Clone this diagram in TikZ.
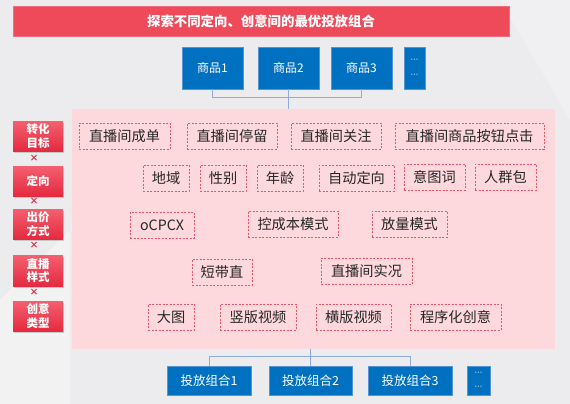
\documentclass[tikz,border=0pt]{standalone}
\usepackage{fontspec}
\setmainfont{Noto Sans CJK SC}
\newfontfamily\dotfont{DejaVu Sans}
\usetikzlibrary{shadows}
\definecolor{bgc}{HTML}{ECECEE}
\definecolor{titlered}{HTML}{EE4A5A}
\definecolor{bluebox}{HTML}{0070C0}
\definecolor{pinkbg}{HTML}{FDD8DC}
\definecolor{dashred}{HTML}{E8566C}
\definecolor{linec}{HTML}{8FAADC}
\definecolor{txt}{HTML}{262626}
\definecolor{redtop}{HTML}{F4606F}
\definecolor{redbot}{HTML}{E42A40}
\tikzset{
  dbox/.style={draw=dashred, dash pattern=on 2pt off 1.5pt, line width=0.8pt, fill=pinkbg,
    minimum height=26pt, inner sep=0pt, text=txt, font=\fontsize{14.2}{16}\selectfont},
  bluenode/.style={fill=bluebox, draw=linec!60!bluebox, line width=0.4pt, text=white, inner sep=0pt},
  redtag/.style={top color=redtop, bottom color=redbot, draw=none, text=white,
    minimum width=50pt, inner sep=0pt, align=center,
    font=\fontsize{11.5}{13.5}\selectfont\bfseries,
    drop shadow={shadow xshift=1pt, shadow yshift=-1.5pt, opacity=0.35}},
  timesmark/.style={text=redbot, font=\fontsize{9}{9}\selectfont\bfseries, inner sep=0pt},
  conn/.style={draw=linec, line width=0.9pt},
}
\begin{document}
\begin{tikzpicture}[x=1pt, y=-1pt]
\useasboundingbox (0,0) rectangle (570,404);
\fill[bgc] (0,0) rectangle (570,404);
\fill[white, opacity=0.35] (0,300) -- (70,230) -- (70,404) -- (0,404) -- cycle;
\fill[white, opacity=0.25] (500,0) -- (570,0) -- (570,120) -- cycle;

% title
\node[fill=titlered, draw=titlered!80!white, minimum width=496pt, minimum height=30pt, inner sep=0pt,
  text=white, font=\fontsize{13.4}{15}\selectfont\bfseries] (title) at (261,21) {探索不同定向、创意间的最优投放组合};

% products
\node[bluenode, minimum width=61pt, minimum height=42pt, font=\fontsize{12}{14}\selectfont] (p1) at (212.5,68) {商品1};
\node[bluenode, minimum width=61pt, minimum height=42pt, font=\fontsize{12}{14}\selectfont] (p2) at (288.5,68) {商品2};
\node[bluenode, minimum width=61pt, minimum height=42pt, font=\fontsize{12}{14}\selectfont] (p3) at (361.5,68) {商品3};
\node[bluenode, minimum width=21pt, minimum height=42pt, align=center, font=\dotfont\fontsize{8}{15}\selectfont] (pd) at (414.5,68) {···\\···};

% panel
\node[fill=pinkbg, draw=none, minimum width=483pt, minimum height=240pt, inner sep=0pt] (panel) at (313.5,229) {};

% connectors top
\draw[conn] (p1.south) -- ++(0,8) -| (p3.south);
\draw[conn] (p2.south) -- (p2.south |- panel.north);

% left tags
\node[redtag, minimum height=30pt] (t1) at (38,136) {转化\\目标};
\node[redtag, minimum height=30pt] (t2) at (38,181) {定向};
\node[redtag, minimum height=30pt] (t3) at (38,224) {出价\\方式};
\node[redtag, minimum height=31pt] (t4) at (38,270.5) {直播\\样式};
\node[redtag, minimum height=30pt] (t5) at (38,316) {创意\\类型};
\node[timesmark] (x1) at (34,158) {×};
\node[timesmark] (x2) at (34,201) {×};
\node[timesmark] (x3) at (34,245) {×};
\node[timesmark] (x4) at (34,292) {×};

% row 1
\node[dbox, minimum width=91pt] (a1) at (124.5,136) {直播间成单};
\node[dbox, minimum width=90pt] (a2) at (232,136) {直播间停留};
\node[dbox, minimum width=90pt] (a3) at (336,136) {直播间关注};
\node[dbox, minimum width=149pt] (a4) at (469.5,136) {直播间商品按钮点击};
% row 2
\node[dbox, minimum width=46pt] (b1) at (166,178) {地域};
\node[dbox, minimum width=46pt] (b2) at (223,178) {性别};
\node[dbox, minimum width=46pt] (b3) at (280,178) {年龄};
\node[dbox, minimum width=75pt] (b4) at (356.5,178) {自动定向};
\node[dbox, minimum width=61pt] (b5) at (434.5,177) {意图词};
\node[dbox, minimum width=61pt] (b6) at (505.5,177) {人群包};
% row 3
\node[dbox, minimum width=64pt] (c1) at (162,225) {oCPCX};
\node[dbox, minimum width=90pt] (c2) at (293,224) {控成本模式};
\node[dbox, minimum width=75pt] (c3) at (409.5,224) {放量模式};
% row 4
\node[dbox, minimum width=60pt] (d1) at (222,272) {短带直};
\node[dbox, minimum width=91pt] (d2) at (366.5,271) {直播间实况};
% row 5
\node[dbox, minimum width=46pt] (e1) at (171,317) {大图};
\node[dbox, minimum width=76pt] (e2) at (258,317) {竖版视频};
\node[dbox, minimum width=75pt] (e3) at (353.5,317) {横版视频};
\node[dbox, minimum width=91pt] (e4) at (455.5,317) {程序化创意};

% bottom groups
\node[bluenode, minimum width=84pt, minimum height=29pt, font=\fontsize{12.5}{14}\selectfont] (g1) at (209,380.5) {投放组合1};
\node[bluenode, minimum width=83pt, minimum height=29pt, font=\fontsize{12.5}{14}\selectfont] (g2) at (310.5,380.5) {投放组合2};
\node[bluenode, minimum width=84pt, minimum height=29pt, font=\fontsize{12.5}{14}\selectfont] (g3) at (410,380.5) {投放组合3};
\node[bluenode, minimum width=23pt, minimum height=29pt, align=center, font=\dotfont\fontsize{8}{14}\selectfont] (gd) at (478.5,380.5) {···\\···};

\draw[conn] (panel.south -| g2.north) -- (g2.north);
\draw[conn] (g1.north) -- ++(0,-9) -| (g3.north);
\end{tikzpicture}
\end{document}
